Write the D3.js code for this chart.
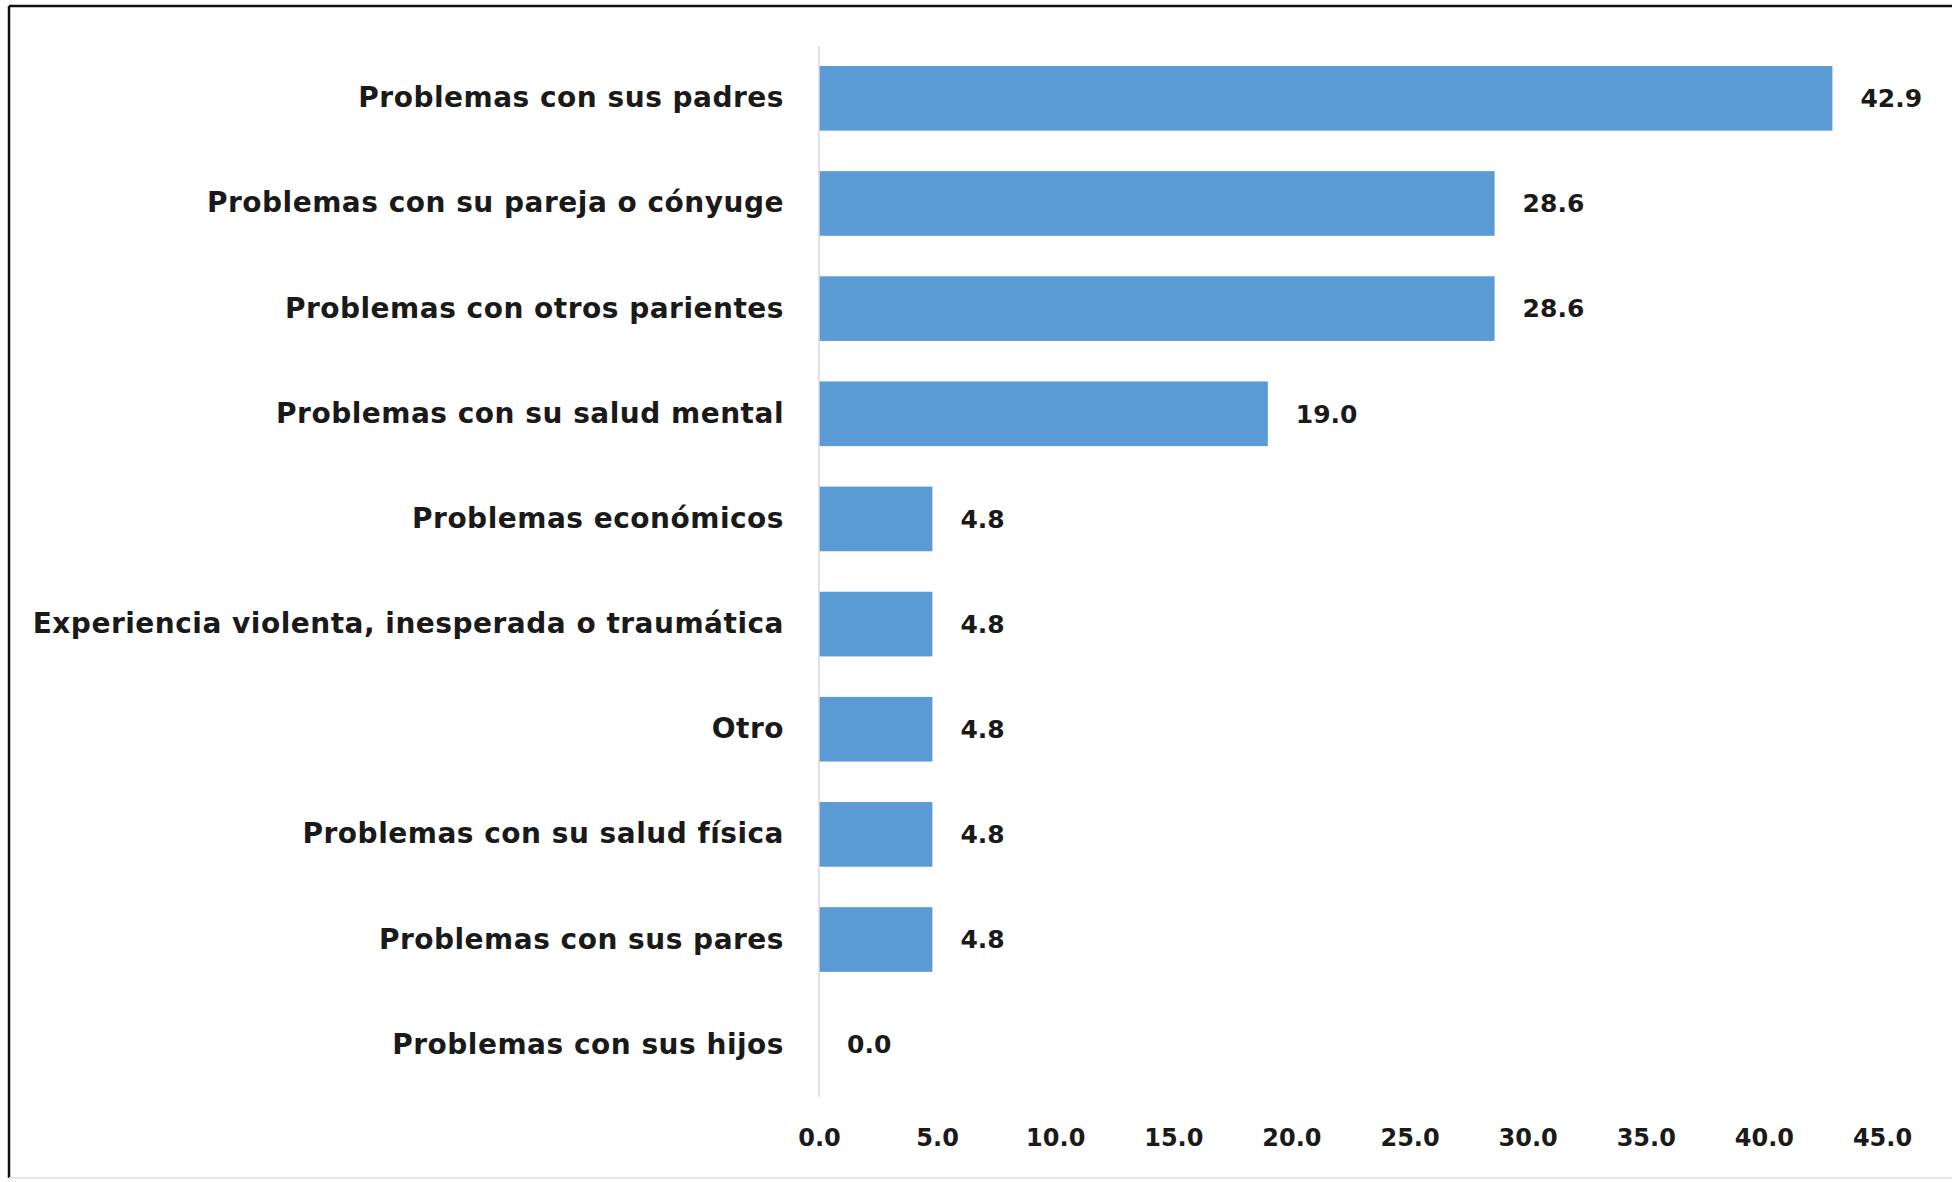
<!DOCTYPE html>
<html>
<head>
<meta charset="utf-8">
<script src="https://cdn.jsdelivr.net/npm/d3@7"></script>
<style>
  html, body { margin: 0; padding: 0; background: #fff; }
  svg { display: block; }
  text { font-family: "DejaVu Sans", sans-serif; font-weight: 700; fill: #1a1a1a; }
</style>
</head>
<body>
<svg id="chart" width="1952" height="1182"></svg>
<script>
const categories = [
  "Problemas con sus padres",
  "Problemas con su pareja o cónyuge",
  "Problemas con otros parientes",
  "Problemas con su salud mental",
  "Problemas económicos",
  "Experiencia violenta, inesperada o traumática",
  "Otro",
  "Problemas con su salud física",
  "Problemas con sus pares",
  "Problemas con sus hijos"
];
const values = [42.9, 28.6, 28.6, 19.0, 4.8, 4.8, 4.8, 4.8, 4.8, 0.0];
const xTicks = [0, 5, 10, 15, 20, 25, 30, 35, 40, 45];

const W = 1952, H = 1182;
const svg = d3.select("#chart");

// frame
svg.append("rect").attr("x", 0).attr("y", 0).attr("width", W).attr("height", H).attr("fill", "#fff");
svg.append("line").attr("x1", 9).attr("x2", W).attr("y1", 6).attr("y2", 6)
  .attr("stroke", "#111").attr("stroke-width", 2.5);
svg.append("line").attr("x1", 9).attr("x2", 9).attr("y1", 6).attr("y2", H - 4)
  .attr("stroke", "#111").attr("stroke-width", 2.5);
svg.append("line").attr("x1", 9).attr("x2", W).attr("y1", H - 4).attr("y2", H - 4)
  .attr("stroke", "#e6e6e6").attr("stroke-width", 2);

const x = d3.scaleLinear().domain([0, 45]).range([819, 1882]);
const y = d3.scaleBand().domain(categories).range([46, 1097]).paddingInner(0.385).paddingOuter(0.19);

// bars
svg.append("g").selectAll("rect").data(values).join("rect")
  .attr("x", x(0))
  .attr("y", (d, i) => y(categories[i]))
  .attr("width", d => x(d) - x(0))
  .attr("height", y.bandwidth())
  .attr("fill", "#5b9bd5");

// vertical axis line
svg.append("line")
  .attr("x1", x(0)).attr("x2", x(0))
  .attr("y1", 46).attr("y2", 1097)
  .attr("stroke", "#d9d9d9").attr("stroke-width", 1.5);

// category labels
const yAxis = d3.axisLeft(y).tickSize(0).tickPadding(35);
const gy = svg.append("g").attr("transform", `translate(${x(0)},0)`).call(yAxis);
gy.select(".domain").remove();
gy.selectAll("text").style("font-size", "28px").style("letter-spacing", "0.5px").attr("fill", "#1a1a1a");

// value labels
svg.append("g").selectAll("text").data(values).join("text")
  .attr("x", d => x(d) + 28)
  .attr("y", (d, i) => y(categories[i]) + y.bandwidth() / 2)
  .attr("dy", "0.35em")
  .style("font-size", "25px")
  .text(d => d3.format(".1f")(d));

// x axis tick labels
const xAxis = d3.axisBottom(x).tickValues(xTicks).tickFormat(d3.format(".1f")).tickSize(0).tickPadding(0);
const gx = svg.append("g").attr("transform", `translate(0,1129)`).call(xAxis);
gx.select(".domain").remove();
gx.selectAll("text").style("font-size", "24px").attr("fill", "#1a1a1a");
</script>
</body>
</html>
